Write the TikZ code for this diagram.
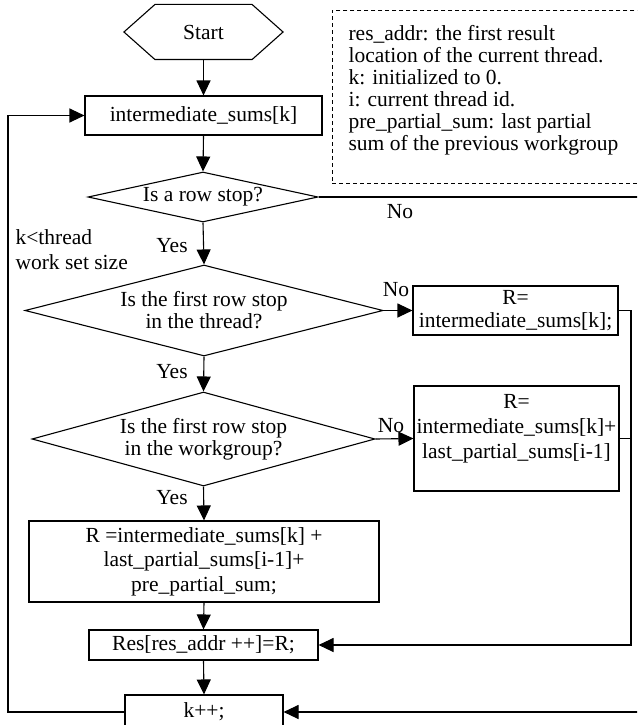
\documentclass[tikz,border=0pt]{standalone}
\usepackage{fontspec}
\setmainfont{Liberation Serif}
\usetikzlibrary{shapes.geometric,arrows.meta,calc}
\begin{document}
\begin{tikzpicture}[x=1pt,y=-1pt,
  font=\fontsize{21.5}{22}\selectfont,
  line width=1.1pt,
  arr/.style={-{Triangle[length=15pt,width=14pt]}},
  box/.style={draw, rectangle, inner sep=2pt, align=center},
  dia/.style={draw, diamond, inner sep=0pt, align=center},
  lbl/.style={inner sep=0pt}]
\useasboundingbox (0,0) rectangle (637,725);
\clip (0,0) rectangle (637,725);
\fill[white] (0,0) rectangle (637,725);

% coordinates for bends
\coordinate (lx) at (8,0);
\coordinate (rx) at (631,0);
\coordinate (fx) at (660,0);

% start
\node[lbl, minimum width=158pt, minimum height=54pt] (start) at (203.5,32) {Start};
\draw (start.west) -- ($(start.north west)+(31,0)$) -- ($(start.north east)+(-31,0)$)
  -- (start.east) -- ($(start.south east)+(-31,0)$) -- ($(start.south west)+(31,0)$) -- cycle;

% note
\node[draw, dash pattern=on 4pt off 3pt, line width=0.8pt, minimum width=313pt, minimum height=173pt,
  anchor=north west, inner sep=0pt] (note) at (332,10) {};
\node[anchor=north west, align=left, inner sep=0pt] (notetxt) at ($(note.north west)+(16,15)$)
  {res\_addr: the first result\\location of the current thread.\\k: initialized to 0.\\i: current thread id.\\pre\_partial\_sum: last partial\\sum of the previous workgroup};

% main nodes
\node[box, minimum width=237pt, minimum height=39pt] (inter) at (203.5,115.5) {intermediate\_sums[k]};
\node[dia, aspect=4.6, minimum width=230pt, minimum height=50pt] (d1) at (203,197) {Is a row stop?};
\node[dia, aspect=3.93, minimum width=358pt, minimum height=91pt] (d2) at (204,310.5) {Is the first row stop\\in the thread?};
\node[dia, aspect=3.65, minimum width=343pt, minimum height=94pt] (d3) at (203.5,439) {Is the first row stop\\in the workgroup?};
\node[box, minimum width=205pt, minimum height=49pt, font=\fontsize{21.5}{23}\selectfont] (b2) at (515.5,310.5) {R=\\intermediate\_sums[k];};
\node[box, minimum width=205pt, minimum height=105pt, font=\fontsize{21.5}{25}\selectfont] (b3) at (516.5,438.5) {R=\\intermediate\_sums[k]+\\last\_partial\_sums[i-1]\\[0pt]\mbox{}};
\node[box, minimum width=350pt, minimum height=81pt, font=\fontsize{21.5}{24.5}\selectfont] (b4) at (204,561.5) {R =intermediate\_sums[k] +\\last\_partial\_sums[i-1]+\\pre\_partial\_sum;};
\node[box, minimum width=229pt, minimum height=30pt] (res) at (203.5,645) {Res[res\_addr ++]=R;};
\node[box, minimum width=158pt, minimum height=34pt] (kpp) at (204,712) {k++;};

% labels
\node[lbl] (no1) at (400,212) {No};
\node[lbl] (no2) at (396,290) {No};
\node[lbl] (no3) at (391,426) {No};
\node[lbl] (yes1) at (172,246) {Yes};
\node[lbl] (yes2) at (172,372) {Yes};
\node[lbl] (yes3) at (172,498) {Yes};
\node[lbl, align=left, anchor=west, font=\fontsize{21.5}{25}\selectfont] (cond) at (15,249.5) {k<thread\\work set size};

% connectors
\draw[arr] (start.south) -- (inter.north);
\draw[arr] (inter.south) -- (d1.north);
\draw[arr] (d1.south) -- (d2.north);
\draw[arr] (d2.south) -- (d3.north);
\draw[arr] (d3.south) -- (b4.north);
\draw[arr] (b4.south) -- (res.north);
\draw[arr] (res.south) -- (kpp.north);
\draw[arr] (d2.east) -- (b2.west);
\draw[arr] (d3.east) -- (b3.west);
\draw[arr] (b2.east) -- (b2.east -| rx) |- (res.east);
\draw (b3.east) -- (b3.east -| rx);
\draw[arr] (d1.east) -- (d1.east -| fx) |- (kpp.east);
\draw[arr] (kpp.west) -- (kpp.west -| lx) |- (inter.west);
\end{tikzpicture}
\end{document}
